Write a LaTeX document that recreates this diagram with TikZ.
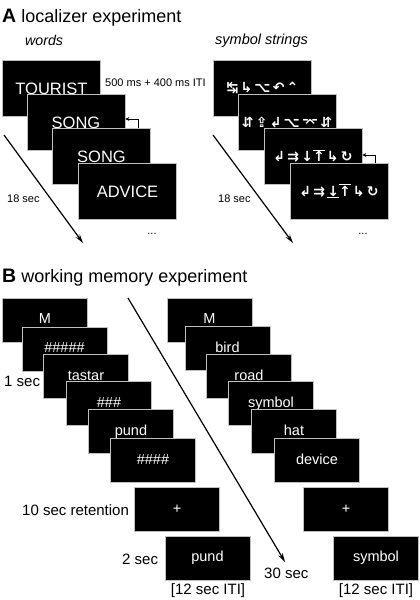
\documentclass[tikz,border=0pt]{standalone}
\usepackage{fontspec}
\setmainfont{Liberation Sans}
\newfontfamily\symfont{DejaVu Sans}
\usetikzlibrary{arrows.meta,calc}
\newcommand\dnbar{\underline{↓}}
\newcommand\upbar{$\overline{\hbox{↑}}$}
\newcommand\gp{\hspace{2.2pt}}
\begin{document}
\begin{tikzpicture}[x=1pt,y=-1pt,
  scr/.style={fill=black,draw=white!75!black,line width=0.7pt,text=white,inner sep=0pt},
  wbox/.style={scr,minimum width=98pt,minimum height=56pt,font=\fontsize{16.5}{18}\selectfont,text height=12pt,text depth=0pt},
  sbox/.style={scr,minimum width=98pt,minimum height=56pt,font=\symfont\bfseries\fontsize{14}{16}\selectfont},
  mbox/.style={scr,minimum width=85pt,minimum height=44pt,font=\fontsize{14.5}{16}\selectfont,text height=10.5pt,text depth=3pt},
  lab/.style={inner sep=0pt,anchor=base west},
  small/.style={lab,font=\fontsize{11}{13}\selectfont},
  blab/.style={lab,font=\fontsize{15}{17}\selectfont},
  timearrow/.style={line width=1.2pt,-{Stealth[length=9pt,width=5pt]}},
  rep/.style={line width=0.9pt,-{Stealth[length=4pt,width=4pt]}}
]
\fill[white] (0,0) rectangle (420,600);
\useasboundingbox (0,0) rectangle (420,600);

% ---------- Panel A ----------
\node[lab,font=\fontsize{18}{20}\selectfont] (titleA) at (2,22) {{\fontsize{19.5}{20}\selectfont\bfseries A} localizer experiment};
\node[lab,font=\fontsize{14.2}{16}\selectfont\itshape] (words) at (25,45) {words};
\node[lab,font=\fontsize{14.5}{16}\selectfont\itshape] (symstr) at (215,44) {symbol strings};

\node[wbox] (w1) at (51.5,88.5) {TOURIST};
\node[wbox] (w2) at (76,122) {SONG};
\node[wbox] (w3) at (101.5,156.5) {SONG};
\node[wbox] (w4) at (127.5,191) {ADVICE};

\node[small] (dur) at (105,86) {500 ms + 400 ms ITI};

\coordinate (cw) at (138,119);
\draw[rep] (w3.north -| cw) -- (cw) -- (cw -| w2.east);

\node[sbox] (s1) at (262.5,88) {↹\gp↳\gp⌥\gp↶\gp⌃};
\node[sbox] (s2) at (287,122) {⇵\gp⇪\gp↲\gp⌥\gp⌤\gp⇵};
\node[sbox] (s3) at (313,156.5) {↲\gp⇉\gp\dnbar\upbar\gp↳\gp↻};
\node[sbox] (s4) at (339,191) {↲\gp⇉\gp\dnbar\upbar\gp↳\gp↻};

\coordinate (cs) at (375,155);
\draw[rep] (s4.north -| cs) -- (cs) -- (cs -| s3.east);

\coordinate (aw0) at (4,135);
\coordinate (aw1) at (83,243);
\draw[timearrow] (aw0) -- (aw1);
\coordinate (as0) at (213,135);
\coordinate (as1) at (293,243);
\draw[timearrow] (as0) -- (as1);

\node[small] (t18a) at (7,202) {18 sec};
\node[small] (t18b) at (218,202) {18 sec};
\node[font=\fontsize{11}{13}\selectfont] (dotsA) at (152,234) {...};
\node[font=\fontsize{11}{13}\selectfont] (dotsB) at (363,234) {...};

% ---------- Panel B ----------
\node[lab,font=\fontsize{18}{20}\selectfont] (titleB) at (2,282) {{\fontsize{19.5}{20}\selectfont\bfseries B} working memory experiment};

\node[mbox] (L1) at (45,320) {M};
\node[mbox] (L2) at (64.5,349) {\#\#\#\#\#};
\node[mbox] (L3) at (86,376.5) {tastar};
\node[mbox] (L4) at (109,403.5) {\#\#\#};
\node[mbox] (L5) at (131,431.5) {pund};
\node[mbox] (L6) at (153,460.5) {\#\#\#\#};
\node[mbox] (L7) at (177,509.5) {+};
\node[mbox] (L8) at (207.5,558) {pund};

\node[mbox] (R1) at (209.5,320) {M};
\node[mbox] (R2) at (227.5,348.5) {bird};
\node[mbox] (R3) at (249,376.5) {road};
\node[mbox] (R4) at (271,403.5) {symbol};
\node[mbox] (R5) at (294,431.5) {hat};
\node[mbox] (R6) at (317,460.5) {device};
\node[mbox] (R7) at (346,509.5) {+};
\node[mbox] (R8) at (376,558) {symbol};

\coordinate (ab0) at (128,298);
\coordinate (ab1) at (285,562);
\draw[timearrow] (ab0) -- (ab1);

\node[blab] (t1) at (4,386) {1 sec};
\node[blab] (t10) at (22,515) {10 sec retention};
\node[blab] (t2) at (122,564) {2 sec};
\node[blab] (t30) at (264,578) {30 sec};
\node[blab,anchor=base] (itiL) at (208,594) {[12 sec ITI]};
\node[blab,anchor=base] (itiR) at (376,594) {[12 sec ITI]};
\end{tikzpicture}
\end{document}
